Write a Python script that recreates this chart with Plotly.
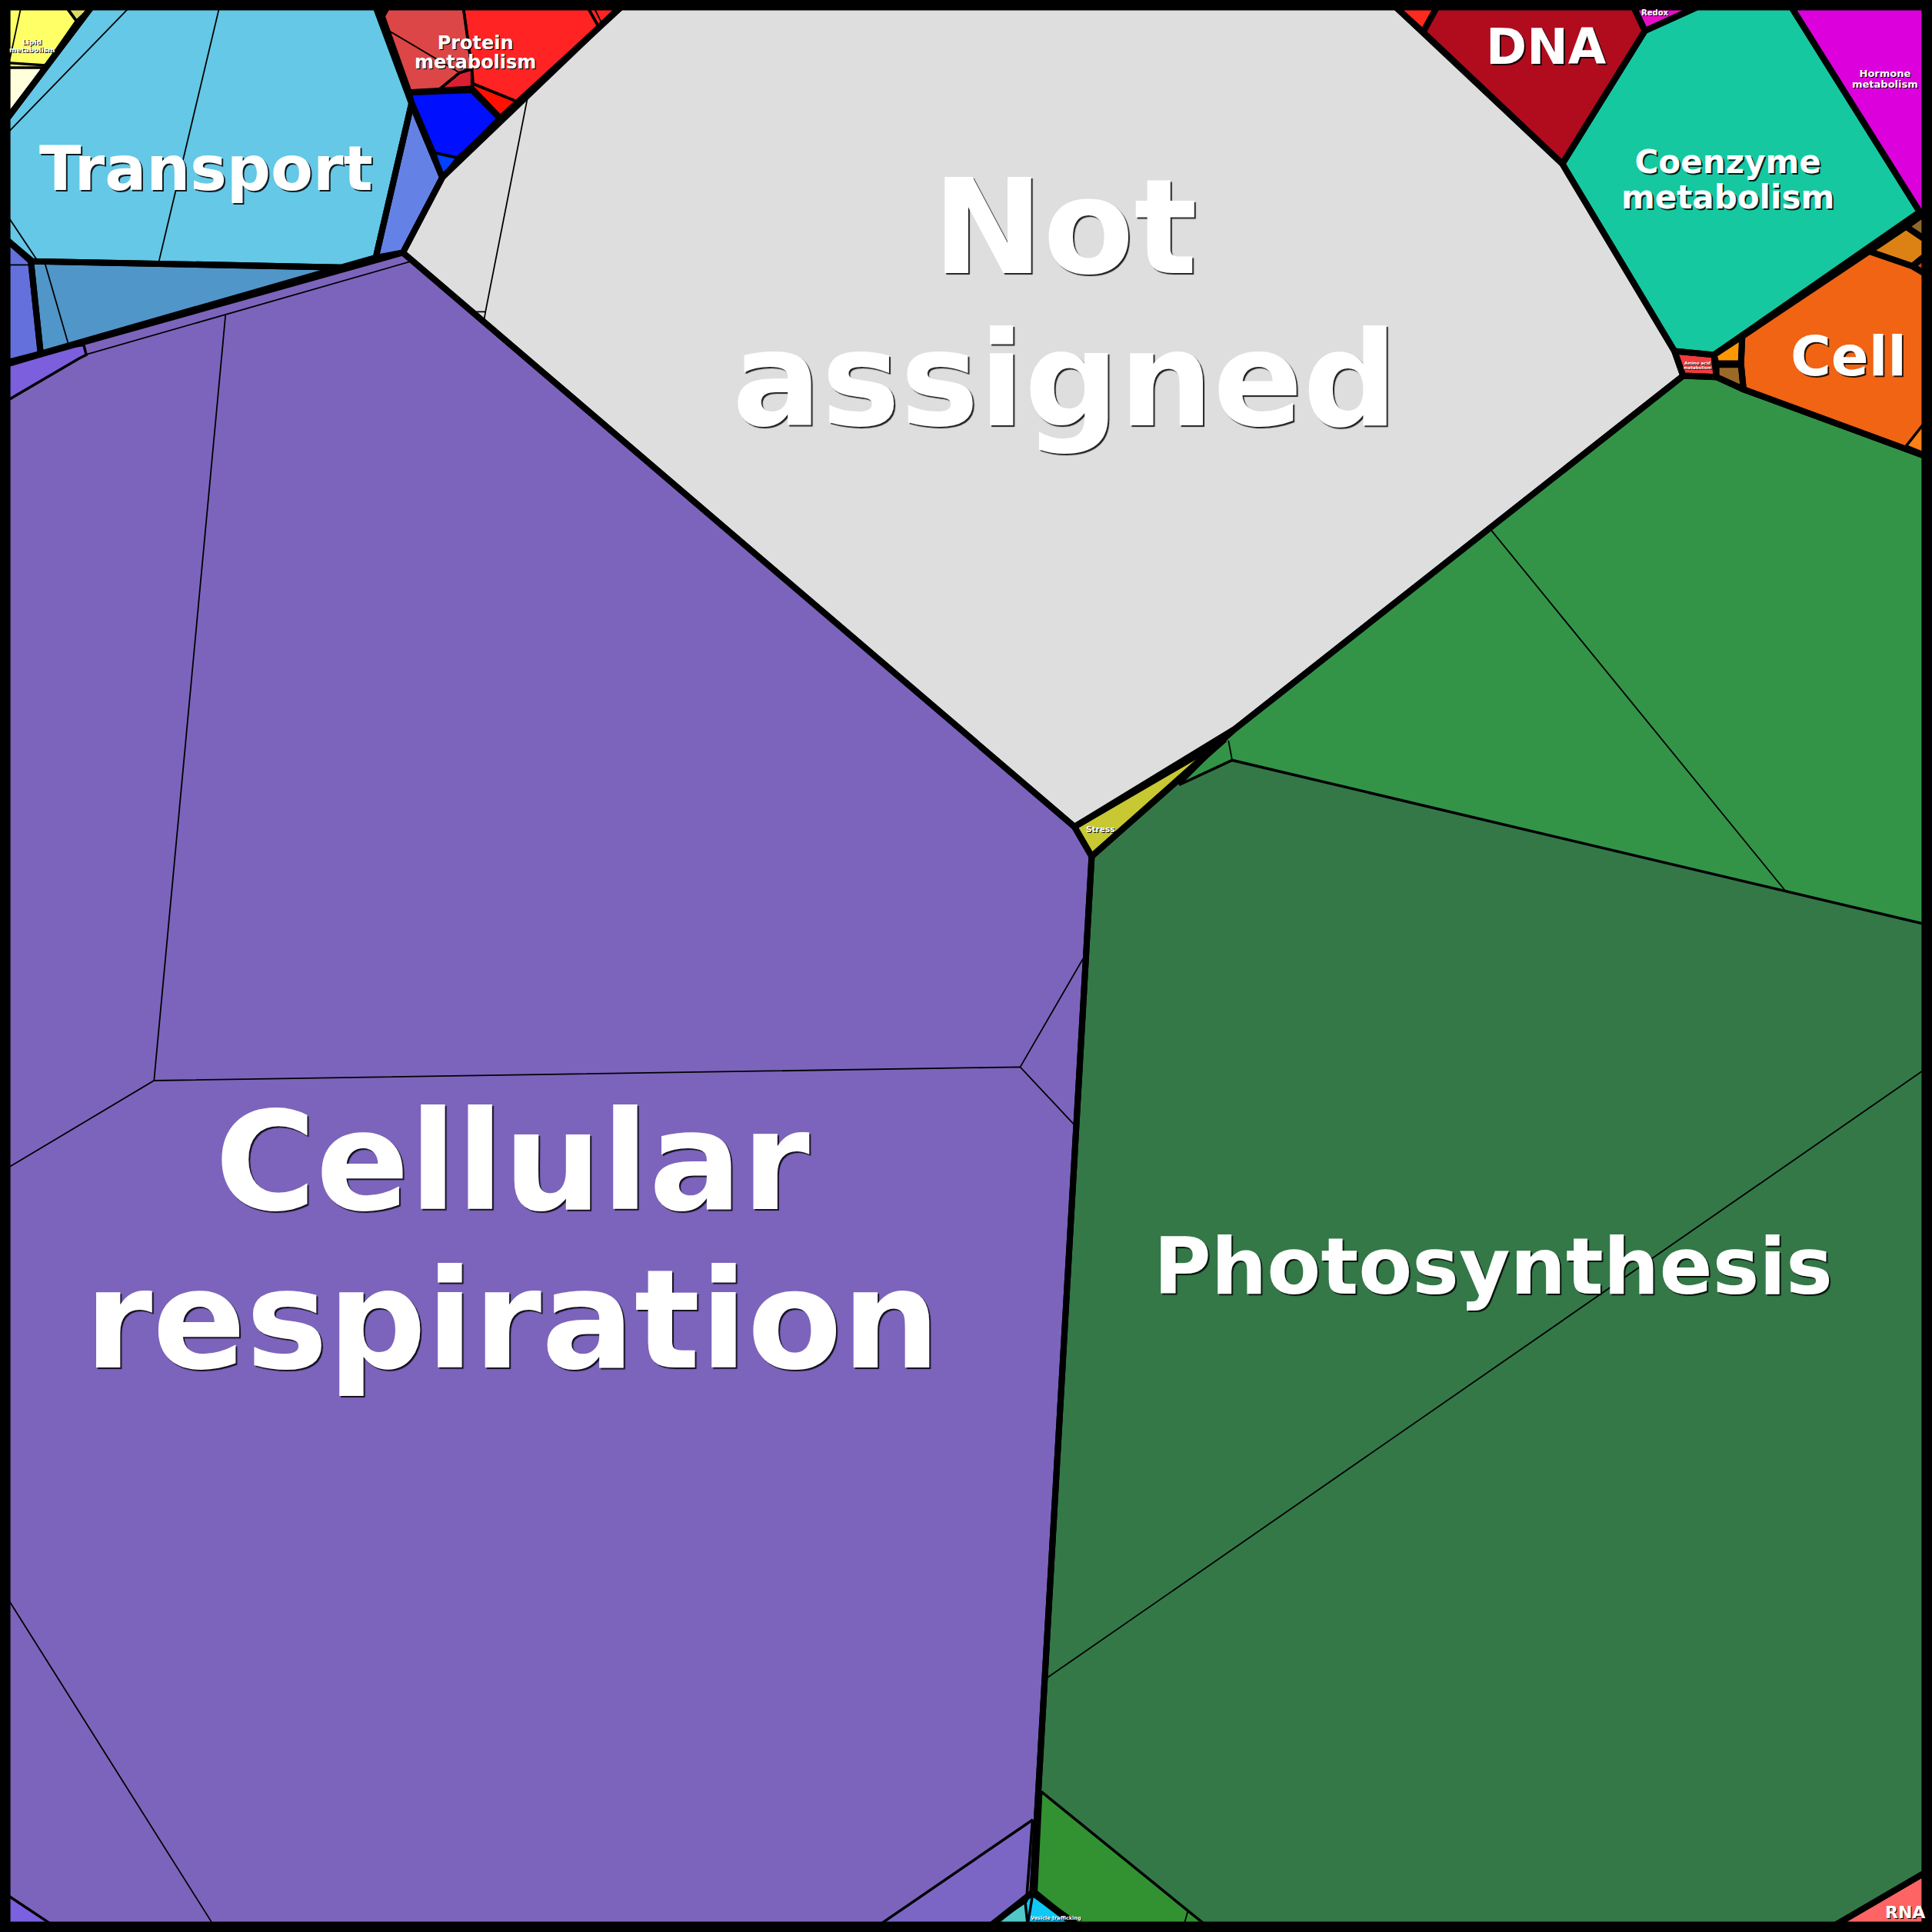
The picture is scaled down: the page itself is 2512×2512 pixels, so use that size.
import plotly.graph_objects as go

# ---------------- data: cell polygons of the Voronoi treemap (chart units, origin top-left) -------------
NOT_ASSIGNED = [(503, 6), (1133, 6), (1268, 133), (1359, 285), (1366, 305), (1003, 591), (872, 671), (327, 205), (359, 144)]
DNA_EDGE = [(1133, 6), (1166, 6), (1155, 26)]
DNA = [(1155, 26), (1166, 6), (1326, 6), (1335, 25), (1268, 133)]
REDOX = [(1326, 6), (1377, 6), (1335, 25)]
COENZYME = [(1335, 25), (1377, 6), (1454, 6), (1558, 172), (1391, 288), (1359, 285), (1268, 133)]
HORMONE = [(1454, 6), (1562, 6), (1562, 172), (1558, 172)]
BROWN_TOP = [(1547, 184), (1558, 176), (1562, 176), (1562, 194)]
AMBER_TOP = [(1517, 204), (1547, 184), (1562, 194), (1562, 208), (1552, 216)]
RUST_TOP = [(1552, 216), (1562, 208), (1562, 222)]
CELL = [(1414, 273), (1517, 204), (1552, 216), (1562, 222), (1562, 370), (1415, 316), (1413, 295)]
CELL_TIP = [(1547, 362), (1562, 343), (1562, 368)]
ORANGE_SMALL = [(1391, 288), (1414, 273), (1413, 295), (1393, 295)]
BROWN_SMALL = [(1393, 296), (1413, 296), (1415, 316), (1393, 306)]
AMINO = [(1359, 285), (1391, 288), (1393, 306), (1366, 305)]
PHOTO = [(1366, 305), (1393, 306), (1415, 316), (1562, 370), (1562, 1520), (1490, 1562), (874, 1562),
         (838, 1536), (886, 695), (994, 600), (1003, 591)]
PHOTO_UPPER = [(1003, 591), (1366, 305), (1393, 306), (1415, 316), (1562, 370), (1562, 750), (1000, 617),
               (957, 637), (994, 600)]
PHOTO_FOOT = [(845, 1454), (978, 1562), (874, 1562), (841, 1535)]
STRESS = [(872, 671), (994, 600), (886, 695)]
RNA = [(1490, 1562), (1562, 1520), (1562, 1562)]
VESICLE = [(838, 1536), (872, 1562), (805, 1562)]
VESICLE_A = [(832, 1543), (834, 1562), (805, 1562)]
VESICLE_B = [(838, 1538), (872, 1562), (834, 1562)]
RESP = [(327, 205), (872, 671), (886, 695), (838, 1536), (805, 1562), (6, 1562), (6, 295)]
RESP_LEFT = [(6, 297), (60, 281), (68, 280), (70, 288), (64, 291), (6, 325)]
RESP_FOOT_R = [(714, 1562), (838, 1477), (833, 1543), (805, 1562)]
RESP_FOOT_L = [(6, 1538), (42, 1562), (6, 1562)]
TRANSPORT = [(74, 6), (305, 6), (334, 84), (305, 209), (277, 217), (25, 212), (6, 195), (6, 96)]
TRANSPORT_LOW = [(25, 212), (277, 217), (33, 287)]
TRANSPORT_SIDE = [(6, 195), (25, 211), (33, 287), (6, 294)]
TRANSPORT_WEDGE = [(334, 84), (359, 144), (327, 205), (305, 209)]
LIPID = [(6, 6), (74, 6), (6, 96)]
LIPID_A = [(6, 6), (54, 6), (62, 17), (37, 53), (6, 51)]
LIPID_B = [(54, 6), (74, 6), (62, 17)]
LIPID_C = [(6, 55), (35, 55), (6, 96)]
PROTEIN_DOT = [(305, 6), (314, 6), (310, 13)]
PROTEIN = [(314, 6), (504, 6), (406, 96), (383, 72), (332, 75), (310, 13)]
PROTEIN_A = [(310, 13), (314, 6), (376, 6), (383, 56), (373, 59), (356, 73), (331, 74)]
PROTEIN_B = [(356, 73), (373, 59), (383, 56), (383, 72)]
PROTEIN_C = [(376, 6), (477, 6), (486, 22), (421, 83), (384, 68), (383, 56)]
PROTEIN_D = [(477, 6), (504, 6), (486, 22)]
PROTEIN_E = [(383, 72), (384, 68), (421, 83), (406, 96)]
BLUE = [(332, 75), (383, 73), (406, 96), (359, 144), (334, 84)]
BLUE_A = [(332, 75), (383, 73), (406, 96), (371, 128), (353, 124)]
BLUE_B = [(353, 124), (371, 128), (359, 144)]

# internal seams (thin boundaries between lower-level cells)
SEAMS = [
    [(428, 80), (394, 253), (385, 253)], [(394, 253), (393, 259)],
    [(1210, 430), (1449, 723)], [(848, 1363), (1562, 868)], [(964, 1551), (961, 1562)], [(997, 601), (1000, 617)],
    [(69, 288), (334, 212)], [(183, 256), (125, 877)], [(6, 948), (125, 877), (828, 866), (872, 913)],
    [(828, 866), (879, 778)], [(6, 1297), (173, 1562)],
    [(105, 6), (6, 108)], [(178, 6), (129, 212)], [(6, 175), (30, 211)], [(36, 212), (56, 281)], [(6, 215), (25, 215)],
    [(17, 6), (8, 48)], [(314, 24), (373, 59)], [(482, 6), (489, 20)],
]

# category labels (one entry per label, lines split into a list)
LABEL_LINES = [
    ["Not", "assigned"], ["Cellular", "respiration"], ["Photosynthesis"], ["Transport"], ["DNA"],
    ["Coenzyme", "metabolism"], ["Cell"], ["Protein", "metabolism"], ["Hormone", "metabolism"],
    ["Lipid", "metabolism"], ["Redox"], ["Stress"], ["Amino acid", "metabolism"], ["Vesicle trafficking"], ["RNA"],
]

# ---------------- styles ----------------
THICK, MEDIUM, THIN = 8, 3.5, 1.8
CELLS = [
    (NOT_ASSIGNED, "#DEDEDE", THICK), (DNA_EDGE, "#FF2A1E", THICK), (DNA, "#B00C1E", THICK),
    (REDOX, "#E60FC6", THICK), (COENZYME, "#16C8A0", THICK), (HORMONE, "#DC00DC", THICK),
    (BROWN_TOP, "#8C6A2A", THICK), (AMBER_TOP, "#DC8214", THICK), (RUST_TOP, "#C0401A", THICK),
    (CELL, "#F06414", THICK), (CELL_TIP, "#FF8014", MEDIUM), (ORANGE_SMALL, "#FF9800", THICK),
    (BROWN_SMALL, "#9C6A28", THICK), (AMINO, "#F03C3C", THICK),
    (PHOTO, "#347848", THICK), (PHOTO_UPPER, "#339448", MEDIUM), (PHOTO_FOOT, "#329232", MEDIUM),
    (STRESS, "#C8C832", THICK), (RNA, "#FF6464", THICK),
    (VESICLE, "#10C8F5", THICK), (VESICLE_A, "#50C8C8", MEDIUM), (VESICLE_B, "#10C8F5", MEDIUM),
    (RESP, "#7C64BC", THICK), (RESP_LEFT, "#7B5FDC", MEDIUM), (RESP_FOOT_R, "#7B66C6", MEDIUM),
    (RESP_FOOT_L, "#7B60E0", MEDIUM),
    (TRANSPORT, "#64C8E6", THICK), (TRANSPORT_LOW, "#5096C8", THICK), (TRANSPORT_SIDE, "#6470DC", THICK),
    (TRANSPORT_WEDGE, "#6482E6", THICK),
    (LIPID, "#FFFF66", THICK), (LIPID_A, "#FFFF66", MEDIUM), (LIPID_B, "#DCDC64", MEDIUM),
    (LIPID_C, "#FFFFDC", MEDIUM),
    (PROTEIN_DOT, "#1414C8", THICK), (PROTEIN, "#FF2323", THICK), (PROTEIN_A, "#DC4646", MEDIUM),
    (PROTEIN_B, "#DC1E32", MEDIUM), (PROTEIN_C, "#FF2323", MEDIUM), (PROTEIN_D, "#FF2323", MEDIUM),
    (PROTEIN_E, "#FF1000", MEDIUM),
    (BLUE, "#0010FF", THICK), (BLUE_A, "#0010FF", MEDIUM), (BLUE_B, "#0040FF", MEDIUM),
]
BIG_SH = "2px 2px 1px rgba(0,0,0,0.85)"
MID_SH = "2px 2px 0px rgba(0,0,0,0.85)"
SML_SH = "1px 1px 0px #000"
# label placement: (x centre, y centre of text block, glyph size px, line pitch px, shadow)
LABEL_POS = [
    (864, 246, 172, 198, BIG_SH), (416, 1007, 179, 206, BIG_SH), (1212, 1028, 102, 0, BIG_SH),
    (167, 137, 80, 0, MID_SH), (1255, 38, 64, 0, MID_SH), (1402, 145.5, 42, 46, MID_SH),
    (1500, 289, 72, 0, MID_SH), (385.5, 42.8, 24, 25, SML_SH), (1530, 64, 13, 13.5, SML_SH),
    (26, 37.2, 9, 9.5, SML_SH), (1343, 10, 10, 0, SML_SH), (893, 673, 10.5, 0, SML_SH),
    (1378, 296.8, 5.5, 6, SML_SH), (857, 1557, 6.5, 0, SML_SH), (1546, 1552, 22, 0, SML_SH),
]

fig = go.Figure()


def closed(poly):
    xs = [p[0] for p in poly] + [poly[0][0]]
    ys = [p[1] for p in poly] + [poly[0][1]]
    return xs, ys


for poly, col, w in CELLS:
    xs, ys = closed(poly)
    fig.add_trace(go.Scatter(x=xs, y=ys, mode="lines", fill="toself", fillcolor=col,
                             line=dict(width=0, color=col), hoverinfo="skip"))
for seam in SEAMS:
    fig.add_trace(go.Scatter(x=[p[0] for p in seam], y=[p[1] for p in seam], mode="lines",
                             line=dict(width=THIN, color="black"), hoverinfo="skip"))
for width in (MEDIUM, THICK):
    for poly, col, w in CELLS:
        if w != width:
            continue
        xs, ys = closed(poly)
        fig.add_trace(go.Scatter(x=xs, y=ys, mode="lines", line=dict(width=w, color="black"),
                                 hoverinfo="skip"))

for lines, (x, y, size, pitch, sh) in zip(LABEL_LINES, LABEL_POS):
    if len(lines) == 1:
        text, base = lines[0], size
    else:
        base = pitch / 1.3  # plotly line pitch is 1.3 em of the base font
        text = "<br>".join(f"<span style='font-size:{size}px'>{ln}</span>" for ln in lines)
    fig.add_annotation(x=x, y=y, xref="x", yref="y", text=text, showarrow=False,
                       xanchor="center", yanchor="middle", borderpad=0,
                       font=dict(family="DejaVu Sans", size=base, color="white", weight="bold", shadow=sh))

fig.update_layout(
    width=2512, height=2512, margin=dict(l=0, r=0, t=0, b=0, pad=0),
    paper_bgcolor="black", plot_bgcolor="black", showlegend=False,
    xaxis=dict(range=[0, 1568], visible=False, fixedrange=True),
    yaxis=dict(range=[1568, 0], visible=False, fixedrange=True),
)
fig.write_html("out.html", config={"displayModeBar": False},
               post_script="document.body.style.margin='0px';")
